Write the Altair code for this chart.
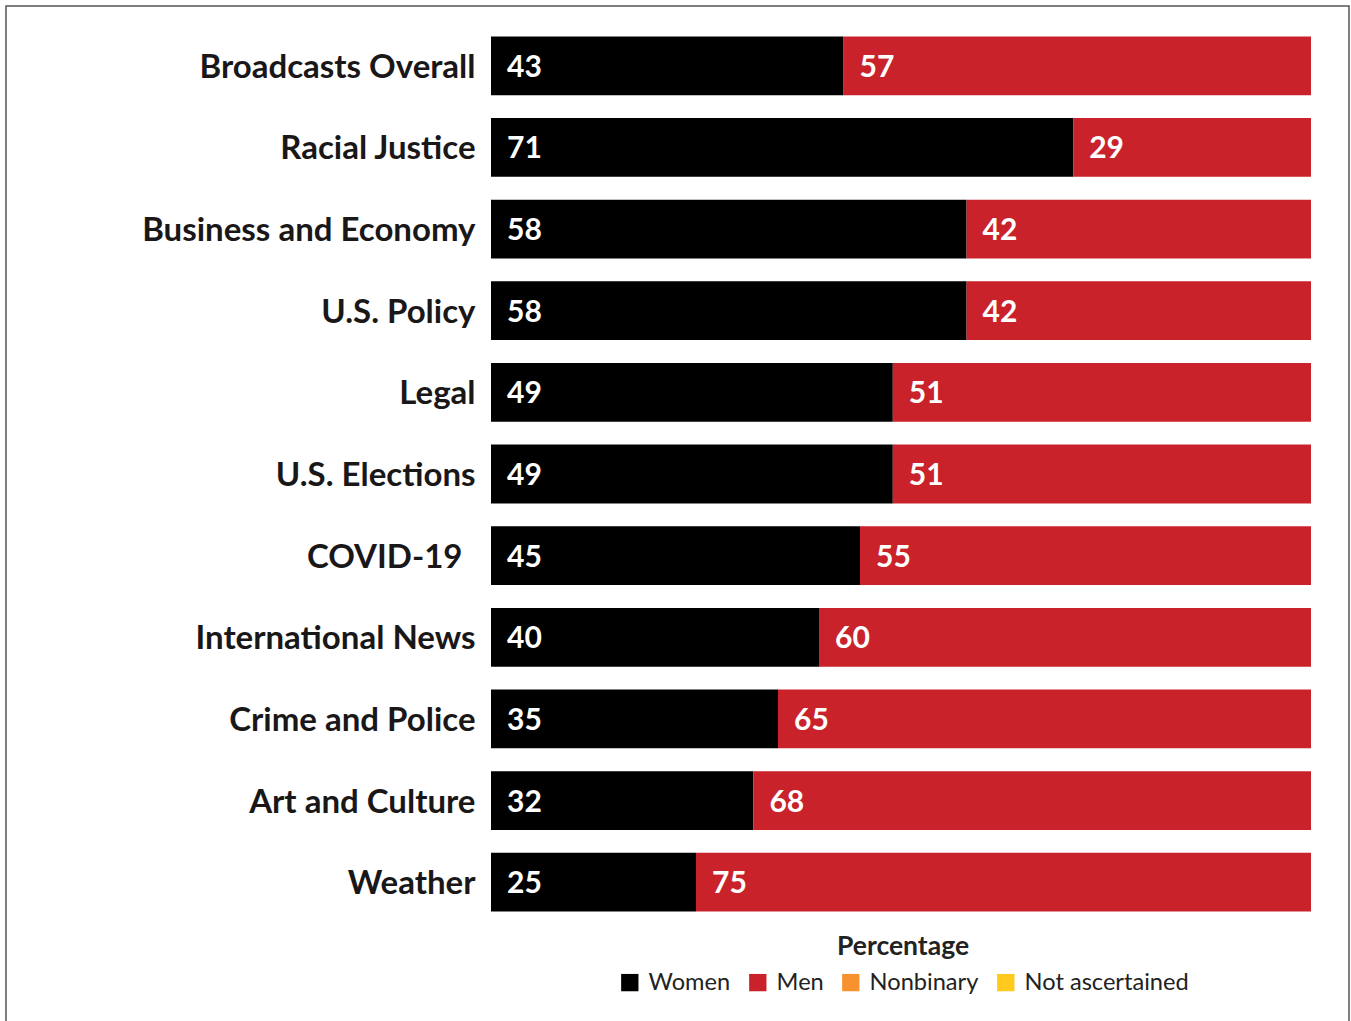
import altair as alt
import pandas as pd

categories = ["Broadcasts Overall", "Racial Justice", "Business and Economy", "U.S. Policy",
              "Legal", "U.S. Elections", "COVID-19", "International News",
              "Crime and Police", "Art and Culture", "Weather"]
women = [43, 71, 58, 58, 49, 49, 45, 40, 35, 32, 25]
men = [57, 29, 42, 42, 51, 51, 55, 60, 65, 68, 75]
groups = ["Women", "Men", "Nonbinary", "Not ascertained"]
colors = ["#000000", "#C9222A", "#F7922F", "#FFC91D"]

rows = []
for c, w, m in zip(categories, women, men):
    rows.append({"category": c, "group": "Women", "value": w, "ord": 0})
    rows.append({"category": c, "group": "Men", "value": m, "ord": 1})
df = pd.DataFrame(rows)

FONT = "Lato"

base = alt.Chart(df).transform_stack(
    stack="value", groupby=["category"], as_=["x0", "x1"],
    sort=[alt.SortField("ord", order="ascending")]
)

y_enc = alt.Y("category:N", sort=categories,
              scale=alt.Scale(paddingInner=0.28, paddingOuter=0.14),
              axis=alt.Axis(title=None, ticks=False, domain=False,
                            labelPadding={"condition": {"test": "datum.label == 'COVID-19'", "value": 29},
                                          "value": 16},
                            labelOffset=2,
                            labelFont=FONT, labelFontSize=33, labelFontWeight="bold",
                            labelColor="#1a1718", labelLimit=450))

bars = base.mark_bar().encode(
    x=alt.X("x0:Q", scale=alt.Scale(domain=[0, 100]), axis=None),
    x2="x1:Q",
    y=y_enc,
    color=alt.Color("group:N", scale=alt.Scale(domain=groups, range=colors),
                    legend=alt.Legend(title="Percentage", orient="none", direction="horizontal",
                                      legendX=127, legendY=909,
                                      titleOrient="top", titleAnchor="middle",
                                      titleFont=FONT, titleFontSize=26.5, titleFontWeight="bold",
                                      titleColor="#222222", titlePadding=10,
                                      labelFont=FONT, labelFontSize=23.6, labelColor="#222222",
                                      labelLimit=400,
                                      symbolType="square", symbolSize=300, symbolStrokeWidth=0,
                                      labelOffset=7, columnPadding=15)),
)

labels = base.mark_text(align="left", baseline="middle", dx=16, dy=2, color="white",
                        font=FONT, fontSize=30, fontWeight="bold").encode(
    x=alt.X("x0:Q", scale=alt.Scale(domain=[0, 100])),
    y=alt.Y("category:N", sort=categories),
    text=alt.Text("value:Q"),
)

border = alt.Chart(pd.DataFrame({"a": [0]})).mark_rect(filled=False, stroke="#555555", strokeWidth=1.5).encode(
    x=alt.value(-485), x2=alt.value(858), y=alt.value(-19), y2=alt.value(1010)
)

chart = alt.layer(bars, labels, border).properties(
    width=820, height=898,
    autosize=alt.AutoSizeParams(type="none"),
    padding={"left": 491, "top": 25, "right": 40, "bottom": 98},
).configure(background="white", view=alt.ViewConfig(strokeWidth=0, stroke="transparent"))

chart.save("out.html", embed_options={"renderer": "svg", "actions": False})
